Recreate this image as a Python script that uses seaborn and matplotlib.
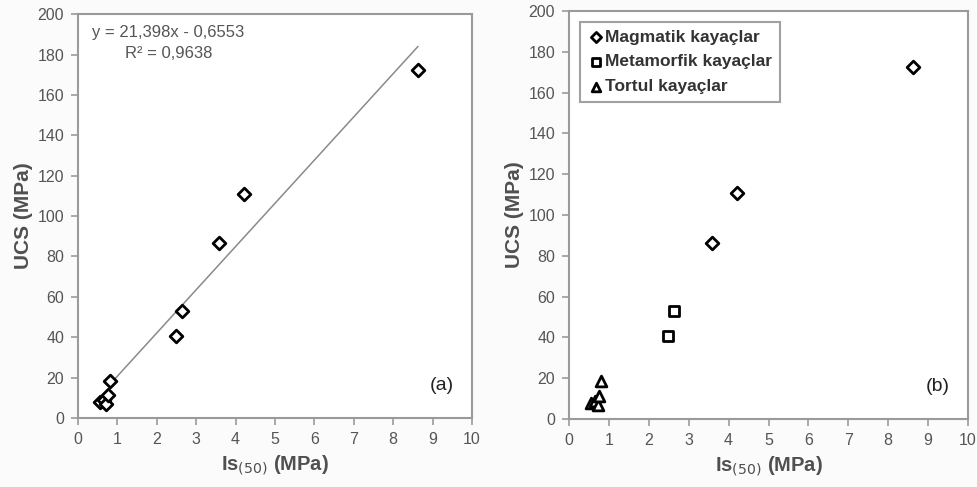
import matplotlib
matplotlib.use("Agg")
import matplotlib.pyplot as plt
import seaborn as sns
import numpy as np
import pandas as pd

sns.set_theme(style="white")
plt.rcParams['font.family'] = ['Liberation Sans', 'DejaVu Sans']

# Data
mag_x = [3.58, 4.22, 8.63]
mag_y = [86.5, 111.0, 172.5]
met_x = [2.48, 2.63]
met_y = [40.5, 52.8]
tor_x = [0.55, 0.65, 0.72, 0.75, 0.80]
tor_y = [8.0, 9.0, 7.0, 11.5, 18.5]
groups = ["Magmatik kayaçlar", "Metamorfik kayaçlar", "Tortul kayaçlar"]
slope, intercept = 21.398, -0.6553
eq_text = "y = 21,398x - 0,6553"
r2_text = "R² = 0,9638"

df = pd.DataFrame({
    "x": mag_x + met_x + tor_x,
    "y": mag_y + met_y + tor_y,
    "g": [groups[0]] * len(mag_x) + [groups[1]] * len(met_x) + [groups[2]] * len(tor_x),
})

fig = plt.figure(figsize=(9.78, 4.87), dpi=100)
fig.patch.set_facecolor("#fbfbfb")
ax1 = fig.add_axes([0.0798, 0.1417, 0.4028, 0.8293])
ax2 = fig.add_axes([0.5818, 0.1396, 0.4080, 0.8378])

markers = {groups[0]: "D", groups[1]: "s", groups[2]: "^"}
msize = {groups[0]: 42, groups[1]: 50, groups[2]: 60}

def style(ax, label):
    ax.set_xlim(0, 10)
    ax.set_ylim(0, 200)
    ax.set_xticks(range(0, 11))
    ax.set_yticks(range(0, 201, 20))
    ax.set_facecolor("white")
    for s in ax.spines.values():
        s.set_color("#9a9a9a")
        s.set_linewidth(1.5)
    ax.tick_params(axis="both", direction="out", length=5, width=1.2, color="#9a9a9a",
                   labelcolor="#555555", labelsize=11.5, bottom=True, left=True, pad=5)
    ax.set_xlabel("Is$_{(50)}$ (MPa)", fontsize=14.5, fontweight="bold", color="#505050", labelpad=5)
    ax.set_ylabel("UCS (MPa)", fontsize=15, fontweight="bold", color="#505050", labelpad=3)
    ax.text(0.955, 0.08, label, transform=ax.transAxes, fontsize=14, ha="right", va="center", color="#222222")

# Panel (a)
sns.scatterplot(data=df, x="x", y="y", ax=ax1, marker="D", s=42, facecolor="white",
                edgecolor="black", linewidth=2.0, legend=False, zorder=3)
xl = np.array([min(df["x"]) + 0.25, max(df["x"])])
ax1.plot(xl, slope * xl + intercept, color="#8a8a8a", lw=1.1, zorder=2)
ax1.text(0.035, 0.972, eq_text, transform=ax1.transAxes, fontsize=12, color="#555555", va="top")
ax1.text(0.12, 0.922, r2_text, transform=ax1.transAxes, fontsize=12, color="#555555", va="top")
style(ax1, "(a)")

# Panel (b)
for g in groups:
    sub = df[df["g"] == g]
    sns.scatterplot(data=sub, x="x", y="y", ax=ax2, marker=markers[g], s=msize[g],
                    facecolor="white", edgecolor="black", linewidth=2.0, label=g, zorder=3)
leg = ax2.legend(loc="upper left", bbox_to_anchor=(0.005, 0.995), frameon=True, fancybox=False,
                 fontsize=12.5, handletextpad=0.0, borderpad=0.45, labelspacing=0.55,
                 handlelength=1.0, markerscale=0.8)
leg.get_frame().set_edgecolor("#8a8a8a")
leg.get_frame().set_linewidth(1.5)
for t in leg.get_texts():
    t.set_fontweight("bold")
    t.set_color("#333333")
style(ax2, "(b)")

fig.savefig("out.png", dpi=100, facecolor=fig.get_facecolor())
